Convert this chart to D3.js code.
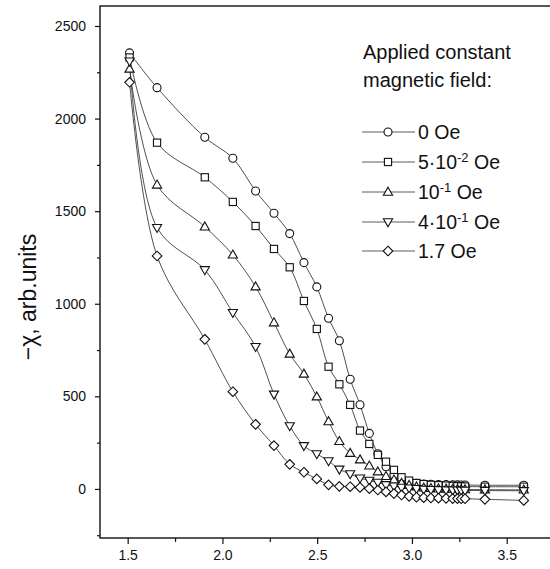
<!DOCTYPE html>
<html><head><meta charset="utf-8">
<script src="https://cdn.jsdelivr.net/npm/d3@7"></script>
<style>
body{margin:0;background:#fff;}
text{font-family:"Liberation Sans",Arial,sans-serif;fill:#111;}
</style></head>
<body><svg id="chart" width="550" height="569"></svg>
<script>
// Temperature grid (x values)
const T = [1.51, 1.655, 1.907, 2.055, 2.175, 2.272, 2.355, 2.43, 2.498, 2.56, 2.617, 2.674, 2.726, 2.775, 2.82, 2.863, 2.905, 2.945, 2.985, 3.024, 3.062, 3.1, 3.14, 3.18, 3.215, 3.24, 3.26, 3.28, 3.385, 3.59];
const seriesNames = ["0 Oe", "5·10-2 Oe", "10-1 Oe", "4·10-1 Oe", "1.7 Oe"];
const s0Oe   = [2355, 2167, 1899, 1786, 1609, 1489, 1379, 1222, 1091, 922, 800, 592, 455, 300, 190, 120, 75, 50, 38, 30, 27, 25, 24, 23, 22, 22, 21, 21, 20, 20];
const s5e2Oe = [2330, 1870, 1683, 1550, 1420, 1296, 1197, 1015, 864, 660, 565, 454, 315, 243, 184, 147, 103, 63, 45, 32, 26, 22, 20, 18, 16, 15, 14, 13, 12, 12];
const s1e1Oe = [2268, 1642, 1416, 1264, 1092, 898, 729, 621, 498, 364, 257, 193, 158, 125, 93, 68, 49, 31, 20, 12, 6, 3, 1, 0, -1, -2, -3, -3, -4, -5];
const s4e1Oe = [2310, 1411, 1183, 952, 768, 511, 340, 233, 189, 151, 106, 81, 58, 46, 35, 22, 15, 8, 4, 1, -2, -4, -5, -6, -7, -7, -8, -8, -9, -10];
const s17Oe  = [2196, 1258, 808, 525, 349, 234, 133, 90, 54, 22, 14, 12, 8, 2, -6, -16, -25, -33, -40, -45, -47, -49, -50, -51, -52, -52, -53, -53, -56, -62];
const yTicks = [0, 500, 1000, 1500, 2000, 2500];
const yMinor = [-250, 250, 750, 1250, 1750, 2250];
const xTicks = [1.5, 2.0, 2.5, 3.0, 3.5];
const xMinor = [1.75, 2.25, 2.75, 3.25];

const series = [s0Oe, s5e2Oe, s1e1Oe, s4e1Oe, s17Oe];
const shapes = ["circle", "square", "up", "down", "diamond"];

const svg = d3.select("#chart");
const L = 100, R = 552, Tp = 6, B = 538;
const x = d3.scaleLinear().domain([1.354, 3.739]).range([L, R]);
const y = d3.scaleLinear().domain([-265, 2608]).range([B, Tp]);

function marker(sel, shape) {
  if (shape === "circle") sel.append("circle").attr("r", 4);
  else if (shape === "square") sel.append("rect").attr("x", -3.6).attr("y", -3.6).attr("width", 7.2).attr("height", 7.2);
  else if (shape === "up") sel.append("path").attr("d", "M0,-4.8L4.6,3.2L-4.6,3.2Z");
  else if (shape === "down") sel.append("path").attr("d", "M0,4.8L4.6,-3.2L-4.6,-3.2Z");
  else sel.append("path").attr("d", "M0,-4.8L4.8,0L0,4.8L-4.8,0Z");
  sel.selectAll("*").attr("fill", "#fff").attr("stroke", "#111").attr("stroke-width", 1.1);
}

// axes
const yAxis = d3.axisLeft(y).tickValues(yTicks).tickSize(5).tickPadding(9).tickFormat(d3.format("d"));
const gy = svg.append("g").attr("transform", `translate(${L},0)`).call(yAxis);
gy.select(".domain").remove();
gy.selectAll("text").style("font-size", "14px").attr("font-family", null);
gy.selectAll("line").attr("stroke", "#111").attr("stroke-width", 1.2);
const gym = svg.append("g").attr("transform", `translate(${L},0)`).call(d3.axisLeft(y).tickValues(yMinor).tickSize(3).tickFormat(""));
gym.select(".domain").remove();
gym.selectAll("line").attr("stroke", "#111").attr("stroke-width", 1.2);

const xAxis = d3.axisBottom(x).tickValues(xTicks).tickSize(6).tickPadding(6).tickFormat(d3.format(".1f"));
const gx = svg.append("g").attr("transform", `translate(0,${B})`).call(xAxis);
gx.select(".domain").remove();
gx.selectAll("text").style("font-size", "14px").attr("font-family", null);
gx.selectAll("line").attr("stroke", "#111").attr("stroke-width", 1.2);
const gxm = svg.append("g").attr("transform", `translate(0,${B})`).call(d3.axisBottom(x).tickValues(xMinor).tickSize(4).tickFormat(""));
gxm.select(".domain").remove();
gxm.selectAll("line").attr("stroke", "#111").attr("stroke-width", 1.2);

// frame
svg.append("rect").attr("x", L).attr("y", Tp).attr("width", R - L).attr("height", B - Tp)
  .attr("fill", "none").attr("stroke", "#111").attr("stroke-width", 1.4);

// y title
svg.append("text").attr("transform", "translate(36,297) rotate(-90)")
  .attr("text-anchor", "middle").style("font-size", "23px").text("\u2212\u03c7, arb.units");

// curves
const line = d3.line().x((d, i) => x(T[i])).y(d => y(d)).curve(d3.curveCatmullRom.alpha(0.5));
const plot = svg.append("g");
series.forEach(s => {
  plot.append("path").attr("d", line(s)).attr("fill", "none").attr("stroke", "#222").attr("stroke-width", 0.8);
});
series.forEach((s, k) => {
  s.forEach((v, i) => {
    const g = plot.append("g").attr("transform", `translate(${x(T[i])},${y(v)})`);
    marker(g, shapes[k]);
  });
});

// legend
const lg = svg.append("g");
lg.append("text").attr("x", 363).attr("y", 59).style("font-size", "20px").text("Applied constant");
lg.append("text").attr("x", 363).attr("y", 87).style("font-size", "20px").text("magnetic field:");
const rowY = [132, 162, 192, 222, 251];
seriesNames.forEach((name, k) => {
  const yy = rowY[k];
  lg.append("line").attr("x1", 362).attr("x2", 415).attr("y1", yy).attr("y2", yy).attr("stroke", "#333").attr("stroke-width", 0.8);
  const g = lg.append("g").attr("transform", `translate(388,${yy})`);
  marker(g, shapes[k]);
  const t = lg.append("text").attr("x", 418).attr("y", yy + 7).style("font-size", "19.5px");
  const m = name.match(/^(.*?10)(-\d)( Oe)$/);
  if (m) {
    t.append("tspan").text(m[1]);
    t.append("tspan").attr("dy", -7).style("font-size", "13px").text(m[2]);
    t.append("tspan").attr("dy", 7).text(m[3]);
  } else t.text(name);
});
</script></body></html>
